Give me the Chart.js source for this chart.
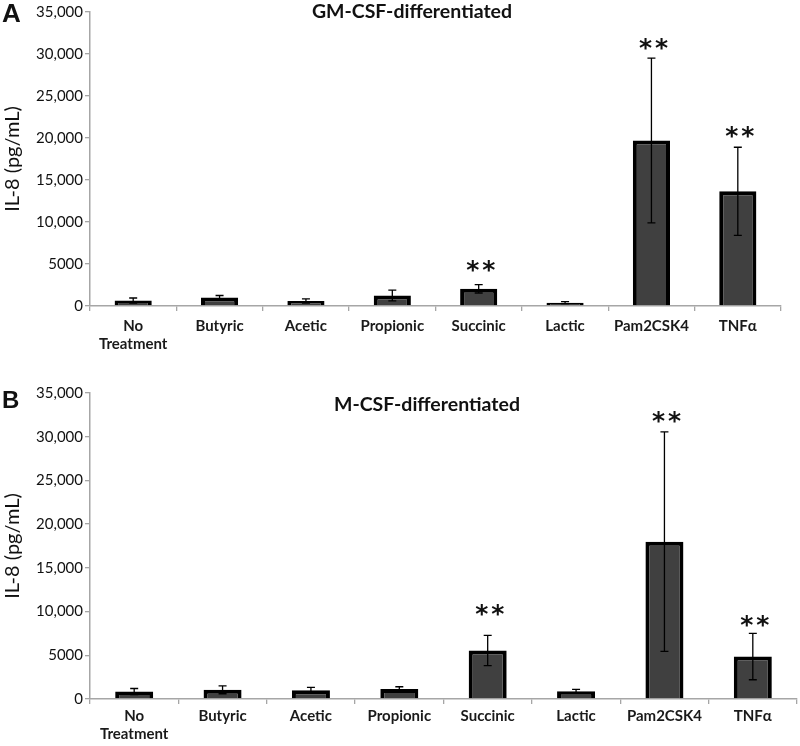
<!DOCTYPE html>
<html><head><meta charset="utf-8">
<script src="https://cdn.jsdelivr.net/npm/chart.js@4/dist/chart.umd.min.js"></script>
<style>
html,body{margin:0;padding:0;background:#fff;}
#wrap{width:800px;height:746px;position:relative;overflow:hidden;}
canvas{position:absolute;left:0;}
#c1{top:0;}
#c2{top:370px;}
</style></head><body>
<div id="wrap">
<canvas id="c1" width="800" height="370"></canvas>
<canvas id="c2" width="800" height="376"></canvas>
</div>
<script>
const categories = [['No','Treatment'],'Butyric','Acetic','Propionic','Succinic','Lactic','Pam2CSK4','TNFα'];
const yTickLabels = ['0','5000','10,000','15,000','20,000','25,000','30,000','35,000'];

const gmMeans  = [650, 1000, 600, 1250, 2050, 400, 19700, 13650];
const gmErrors = [300, 250, 250, 650, 500, 120, 9800, 5250];
const gmStars  = [null, null, null, null, 4735, null, 31180, 20700];

const mMeans  = [850, 1050, 1000, 1150, 5550, 900, 18000, 4850];
const mErrors = [350, 450, 330, 250, 1730, 200, 12550, 2650];
const mStars  = [null, null, null, null, 10190, null, 32250, 8870];

const panels = [
  {id:'c1', letter:'A', title:'GM-CSF-differentiated', means:gmMeans, errors:gmErrors, stars:gmStars,
   pad:{top:12,right:19,bottom:0,left:0}, xh:64, titleX:412, titleY:12, letterY:15, letterSize:26, labelPad:6},
  {id:'c2', letter:'B', title:'M-CSF-differentiated', means:mMeans, errors:mErrors, stars:mStars,
   pad:{top:23,right:3,bottom:0,left:0}, xh:47, titleX:427, titleY:35, letterY:31, letterSize:24, labelPad:3}
];

const decorPlugin = {
  id:'decor',
  afterDatasetsDraw(chart, args, opts){
    const ctx = chart.ctx;
    const ys = chart.scales.y;
    const meta = chart.getDatasetMeta(0);
    ctx.save();
    ctx.strokeStyle = '#000';
    ctx.lineWidth = 1.3;
    meta.data.forEach((bar,i)=>{
      const m = opts.means[i], e = opts.errors[i];
      const yt = ys.getPixelForValue(m+e), yb = ys.getPixelForValue(Math.max(m-e,0));
      const x = bar.x;
      ctx.beginPath();
      ctx.moveTo(x, yt); ctx.lineTo(x, yb);
      ctx.moveTo(x-4, yt); ctx.lineTo(x+4, yt);
      ctx.moveTo(x-4, yb); ctx.lineTo(x+4, yb);
      ctx.stroke();
      const s = opts.stars[i];
      if (s !== null) {
        const cy = ys.getPixelForValue(s);
        ctx.fillStyle = '#111';
        ctx.font = 'bold 25px "DejaVu Sans"';
        ctx.textAlign = 'center';
        ctx.textBaseline = 'alphabetic';
        const mt = ctx.measureText('*');
        const by = cy + (mt.actualBoundingBoxAscent - mt.actualBoundingBoxDescent)/2;
        ctx.fillText('*', x-6, by);
        ctx.fillText('*', x+10, by);
      }
    });
    ctx.fillStyle = '#111';
    ctx.textAlign = 'center';
    ctx.textBaseline = 'middle';
    ctx.font = 'bold 19.5px Lato';
    ctx.fillText(opts.title, opts.titleX, opts.titleY);
    ctx.textAlign = 'left';
    ctx.font = 'bold ' + opts.letterSize + 'px "Liberation Sans"';
    ctx.fillText(opts.letter, 2, opts.letterY);
    ctx.restore();
  }
};

panels.forEach(p=>{
  new Chart(document.getElementById(p.id), {
    type:'bar',
    data:{
      labels:categories,
      datasets:[{
        data:p.means,
        backgroundColor:'#404040',
        borderColor:'#000',
        borderWidth:4,
        borderSkipped:'bottom',
        categoryPercentage:1,
        barPercentage:0.43
      }]
    },
    plugins:[decorPlugin],
    options:{
      responsive:false,
      animation:false,
      events:[],
      layout:{padding:p.pad},
      plugins:{
        legend:{display:false},
        tooltip:{enabled:false},
        title:{display:false},
        decor:{means:p.means, errors:p.errors, stars:p.stars, title:p.title, letter:p.letter,
               titleX:p.titleX, titleY:p.titleY, letterY:p.letterY, letterSize:p.letterSize}
      },
      scales:{
        x:{
          afterFit(s){ s.height = p.xh; },
          grid:{drawOnChartArea:false, drawTicks:true, tickLength:5, color:'#a6a6a6', lineWidth:1.3, offset:true},
          border:{color:'#a6a6a6', width:1.5},
          ticks:{font:{family:'Lato', size:15, weight:'bold'}, color:'#1a1a1a', padding:p.labelPad, maxRotation:0, autoSkip:false},
        },
        y:{
          min:0, max:35000,
          afterFit(s){ s.width = 90; },
          grid:{drawOnChartArea:false, drawTicks:true, tickLength:5, color:'#a6a6a6', lineWidth:1.3},
          border:{color:'#a6a6a6', width:1.5},
          ticks:{stepSize:5000, font:{family:'Lato', size:15}, color:'#111', padding:2,
                 callback:(v,i)=>yTickLabels[i]},
          title:{display:true, text:'IL-8 (pg/mL)', font:{family:'Lato', size:20}, color:'#111', padding:{top:1,bottom:0}}
        }
      }
    }
  });
});
</script>
</body></html>
